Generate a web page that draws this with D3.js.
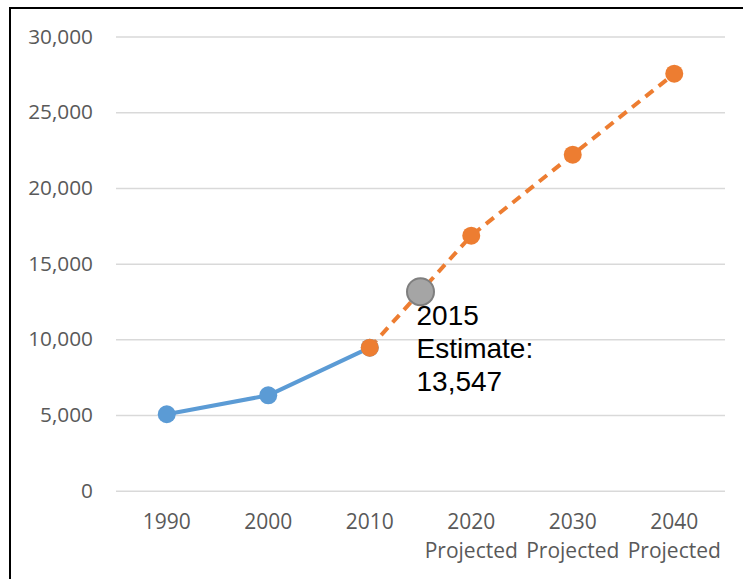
<!DOCTYPE html>
<html>
<head>
<meta charset="utf-8">
<script src="https://cdn.jsdelivr.net/npm/d3@7"></script>
<style>
  html, body { margin: 0; padding: 0; background: #fff; }
  svg { display: block; }
</style>
</head>
<body>
<svg id="chart"></svg>
<script>
// Categories and values
const years = ["1990", "2000", "2010", "2020", "2030", "2040"];
const subLabels = ["", "", "", "Projected", "Projected", "Projected"];
const histYears = ["1990", "2000", "2010"];
const histValues = [5050, 6300, 9450];
const projYears = ["2010", "2020", "2030", "2040"];
const projValues = [9450, 16850, 22200, 27550];
const estimateValue = 13150;
const estimateLabel = ["2015", "Estimate:", "13,547"];
const yTicks = [0, 5000, 10000, 15000, 20000, 25000, 30000];

const width = 743;
const height = 579;

const svg = d3.select("#chart").attr("width", width).attr("height", height);

// Scales
const x = d3.scaleBand().domain(years).range([116, 725]).padding(0);
const y = d3.scaleLinear().domain([0, 30000]).range([490.7, 36.6]);
const cx = (d) => x(d) + x.bandwidth() / 2;

// Frame (left and top edge only)
svg.append("path")
  .attr("d", `M10,${height} V8 H${width}`)
  .attr("fill", "none")
  .attr("stroke", "#000")
  .attr("stroke-width", 2);

// Y axis with gridlines
const yAxis = svg.append("g")
  .attr("transform", "translate(116,0)")
  .call(d3.axisLeft(y).tickValues(yTicks).tickFormat(d3.format(",")).tickSize(-609).tickPadding(23));
yAxis.select(".domain").remove();
yAxis.selectAll(".tick line").attr("stroke", "#d9d9d9").attr("stroke-width", 1.5);
yAxis.selectAll(".tick text")
  .attr("fill", "#595959")
  .style("font-family", "'Open Sans', sans-serif")
  .style("font-size", "20.8px");

// X axis labels
const xAxis = svg.append("g")
  .attr("transform", "translate(0,494)")
  .call(d3.axisBottom(x).tickSize(0).tickPadding(20));
xAxis.select(".domain").remove();
xAxis.selectAll(".tick text")
  .attr("fill", "#595959")
  .style("font-family", "'Open Sans', sans-serif")
  .style("font-size", "21px")
  .each(function (d, i) {
    if (subLabels[i]) {
      d3.select(this).append("tspan")
        .attr("x", 0)
        .attr("dy", "1.38em")
        .text(subLabels[i]);
    }
  });

// Lines
const line = d3.line().x((d) => cx(d[0])).y((d) => y(d[1]));
const hist = histYears.map((d, i) => [d, histValues[i]]);
const proj = projYears.map((d, i) => [d, projValues[i]]);

svg.append("path")
  .datum(hist)
  .attr("d", line)
  .attr("fill", "none")
  .attr("stroke", "#5B9BD5")
  .attr("stroke-width", 4)
  .attr("stroke-linejoin", "round");

svg.append("path")
  .datum(proj)
  .attr("d", line)
  .attr("fill", "none")
  .attr("stroke", "#ED7D31")
  .attr("stroke-width", 4)
  .attr("stroke-dasharray", "10,7");

svg.selectAll(".hist-dot")
  .data(hist)
  .enter()
  .append("circle")
  .attr("class", "hist-dot")
  .attr("cx", (d) => cx(d[0]))
  .attr("cy", (d) => y(d[1]))
  .attr("r", 9)
  .attr("fill", "#5B9BD5");

svg.selectAll(".proj-dot")
  .data(proj)
  .enter()
  .append("circle")
  .attr("class", "proj-dot")
  .attr("cx", (d) => cx(d[0]))
  .attr("cy", (d) => y(d[1]))
  .attr("r", 9)
  .attr("fill", "#ED7D31");

// 2015 estimate, halfway between 2010 and 2020
const estX = (cx("2010") + cx("2020")) / 2;
svg.append("circle")
  .attr("cx", estX)
  .attr("cy", y(estimateValue))
  .attr("r", 13.5)
  .attr("fill", "#A5A5A5")
  .attr("stroke", "#7F7F7F")
  .attr("stroke-width", 2);

svg.append("text")
  .attr("x", estX - 4)
  .attr("y", 325)
  .style("font-family", "'Liberation Sans', Arial, sans-serif")
  .style("font-size", "28px")
  .attr("fill", "#000")
  .selectAll("tspan")
  .data(estimateLabel)
  .enter()
  .append("tspan")
  .attr("x", estX - 4)
  .attr("dy", (d, i) => (i === 0 ? 0 : 33))
  .text((d) => d);
</script>
</body>
</html>
